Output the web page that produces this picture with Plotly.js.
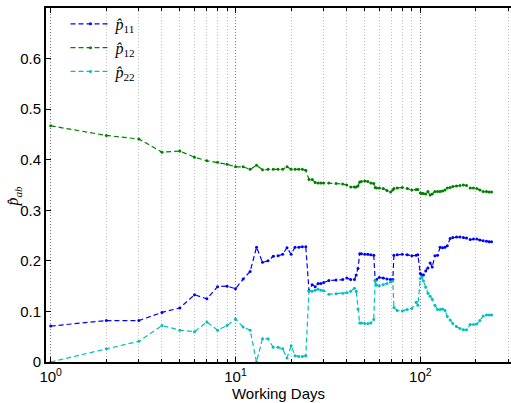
<!DOCTYPE html>
<html>
<head>
<meta charset="utf-8">
<script src="https://cdn.plot.ly/plotly-3.0.1.min.js"></script>
<style>html,body{margin:0;padding:0;background:#fff;}#chart{width:511px;height:403px;}</style>
</head>
<body>
<div id="chart"></div>
<script>
const days = [1,2,3,4,5,6,7,8,9,10,11,12,13,14,15,16,17,18,19,20,21,22,23,24,25,26,27,28,29,30,32,35,38,40,42,44,45,46,47,48,50,52,54,56,57,58,60,63,66,69,71,72,75,80,85,90,95,97,100,102,104,107,110,113,116,120,124,128,132,136,140,145,150,157,164,171,178,186,194,202,210,219,228,236,243];

const p11 = [0.071,0.082,0.082,0.098,0.107,0.133,0.125,0.149,0.150,0.145,0.164,0.179,0.227,0.197,0.200,0.209,0.210,0.213,0.226,0.213,0.227,0.227,0.228,0.228,0.141,0.153,0.149,0.155,0.155,0.157,0.161,0.162,0.163,0.166,0.163,0.163,0.172,0.185,0.214,0.214,0.213,0.213,0.212,0.211,0.161,0.163,0.167,0.166,0.164,0.163,0.163,0.211,0.212,0.213,0.212,0.210,0.211,0.212,0.175,0.172,0.172,0.180,0.186,0.196,0.188,0.210,0.211,0.227,0.226,0.227,0.230,0.244,0.246,0.247,0.247,0.246,0.245,0.242,0.243,0.243,0.241,0.240,0.239,0.238,0.238];

const p12 = [0.467,0.448,0.441,0.415,0.417,0.405,0.398,0.395,0.391,0.386,0.386,0.381,0.389,0.380,0.381,0.381,0.381,0.381,0.386,0.381,0.381,0.381,0.381,0.379,0.361,0.361,0.355,0.354,0.354,0.354,0.354,0.353,0.352,0.350,0.346,0.346,0.346,0.348,0.356,0.357,0.358,0.357,0.354,0.353,0.345,0.344,0.344,0.343,0.339,0.336,0.340,0.343,0.344,0.345,0.343,0.340,0.341,0.341,0.334,0.333,0.333,0.332,0.337,0.330,0.332,0.337,0.337,0.337,0.338,0.340,0.344,0.345,0.347,0.348,0.349,0.350,0.349,0.344,0.344,0.343,0.340,0.337,0.337,0.336,0.336];

const p22 = [0.000,0.026,0.041,0.072,0.063,0.060,0.079,0.063,0.072,0.085,0.069,0.063,0.000,0.046,0.046,0.029,0.029,0.026,0.008,0.032,0.0125,0.011,0.011,0.0125,0.140,0.140,0.142,0.144,0.142,0.141,0.134,0.135,0.136,0.137,0.140,0.146,0.140,0.105,0.077,0.077,0.076,0.076,0.077,0.084,0.161,0.152,0.151,0.153,0.155,0.158,0.160,0.108,0.102,0.101,0.104,0.106,0.118,0.112,0.165,0.168,0.160,0.148,0.136,0.130,0.124,0.112,0.104,0.104,0.105,0.102,0.090,0.083,0.076,0.070,0.066,0.064,0.064,0.074,0.074,0.075,0.082,0.091,0.093,0.093,0.093];

const seriesNames = ['<i>p̂</i><sub>11</sub>','<i>p̂</i><sub>12</sub>','<i>p̂</i><sub>22</sub>'];
const seriesColors = ['#0000ff','#008000','#00bfbf'];
const seriesValues = [p11, p12, p22];

const xTickVals = [1,10,100];
const xTickText = ['10<sup>0</sup>','10<sup>1</sup>','10<sup>2</sup>'];
const xMinorVals = [2,3,4,5,6,7,8,9,20,30,40,50,60,70,80,90,200,300];
const yTickVals = [0,0.1,0.2,0.3,0.4,0.5,0.6];

const traces = seriesValues.map((vals, i) => ({
  x: days, y: vals, type: 'scatter', mode: 'lines+markers',
  name: seriesNames[i], legendgroup: 'g' + i,
  line: {color: seriesColors[i], width: 1.2, dash: '5px,3px'},
  marker: {color: seriesColors[i], size: 3}
}));

const layout = {
  width: 511, height: 403,
  margin: {l: 46, r: 0, t: 8, b: 41},
  paper_bgcolor: '#fff', plot_bgcolor: '#fff',
  font: {family: '"Liberation Sans", Arial, sans-serif', size: 15, color: '#000'},
  showlegend: true,
  legend: {x: 0.042, y: 1.003, xanchor: 'left', yanchor: 'top', bgcolor: 'rgba(0,0,0,0)',
           font: {family: '"Liberation Serif", "DejaVu Serif", serif', size: 16, color: '#000'},
           itemwidth: 40, tracegroupgap: 0},
  xaxis: {
    type: 'log', range: [-0.0254, 2.4908],
    tickmode: 'array', tickvals: xTickVals, ticktext: xTickText,
    ticks: 'inside', ticklen: 5, tickcolor: '#000', tickwidth: 1,
    showline: true, linecolor: '#000', linewidth: 2, mirror: 'ticks',
    showgrid: true, gridcolor: '#808080', griddash: '1px,2px', gridwidth: 1,
    zeroline: false, automargin: false,
    minor: {tickmode: 'array', tickvals: xMinorVals, ticks: 'inside', ticklen: 3, tickcolor: '#000',
            showgrid: true, gridcolor: '#c4c4c4', griddash: '1px,2px', gridwidth: 1},
    title: {text: 'Working Days', standoff: 3, font: {size: 15}}
  },
  yaxis: {
    range: [0, 0.7], tickmode: 'array', tickvals: yTickVals,
    ticks: 'inside', ticklen: 5, tickcolor: '#000',
    showline: true, linecolor: '#000', linewidth: 2, mirror: false,
    showgrid: false, zeroline: false, automargin: false
  },
  annotations: [{
    xref: 'paper', yref: 'paper', x: -0.069, y: 0.47, xanchor: 'center', yanchor: 'middle',
    textangle: -90, showarrow: false,
    text: '<i>p̂</i><sub><i>ab</i></sub>',
    font: {family: '"Liberation Serif", "DejaVu Serif", serif', size: 16, color: '#000'}
  }]
};

Plotly.newPlot('chart', traces, layout, {displayModeBar: false, staticPlot: true});
</script>
</body>
</html>
